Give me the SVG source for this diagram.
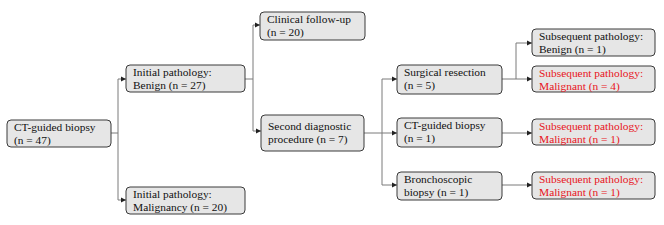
<svg xmlns="http://www.w3.org/2000/svg" width="664" height="225" viewBox="0 0 664 225">
<defs>
<marker id="ah" markerWidth="6" markerHeight="6" refX="5" refY="3" orient="auto" markerUnits="userSpaceOnUse">
<path d="M0,0.5 L5,3 L0,5.5 Z" fill="#222"/>
</marker>
<style>
.box{fill:#e6e6e6;stroke:#3a3a3a;stroke-width:1}
.t{font-family:"Liberation Serif","Times New Roman",serif;font-size:11.4px;fill:#111}
.r{fill:#e8141c}
.c{fill:none;stroke:#7a7a7a;stroke-width:1}
.a{marker-end:url(#ah)}
</style>
</defs>
<rect width="664" height="225" fill="#fff"/>
<g id="connectors">
<path class="c" d="M111,133 H118 M118,79 V200"/>
<path class="c a" d="M118,79 H126"/>
<path class="c a" d="M118,200 H126"/>
<path class="c" d="M245,79 H253 M253,25 V131"/>
<path class="c a" d="M253,25 H260"/>
<path class="c a" d="M253,131 H261"/>
<path class="c" d="M364,133 H382 M382,79 V185"/>
<path class="c a" d="M382,79 H397"/>
<path class="c a" d="M382,133 H397"/>
<path class="c a" d="M382,185 H397"/>
<path class="c" d="M502,79 H516 M516,43 V79"/>
<path class="c a" d="M516,43 H532"/>
<path class="c a" d="M516,79 H532"/>
<path class="c a" d="M502,133 H532"/>
<path class="c a" d="M502,185 H532"/>
</g>
<g id="n1"><rect class="box" x="7" y="120" width="104" height="27" rx="4"/>
<text class="t" x="14" y="131">CT-guided biopsy</text><text class="t" x="14" y="144">(n = 47)</text></g>
<g id="n2"><rect class="box" x="126" y="65" width="119" height="27" rx="4"/>
<text class="t" x="133" y="76">Initial pathology:</text><text class="t" x="133" y="89">Benign (n = 27)</text></g>
<g id="n3"><rect class="box" x="126" y="187" width="119" height="27" rx="4"/>
<text class="t" x="133" y="198">Initial pathology:</text><text class="t" x="133" y="211">Malignancy (n = 20)</text></g>
<g id="n4"><rect class="box" x="260" y="12" width="105" height="28" rx="4"/>
<text class="t" x="267" y="23">Clinical follow-up</text><text class="t" x="267" y="36">(n = 20)</text></g>
<g id="n5"><rect class="box" x="261" y="115" width="103" height="36" rx="4"/>
<text class="t" x="268" y="130">Second diagnostic</text><text class="t" x="268" y="143">procedure (n = 7)</text></g>
<g id="n6"><rect class="box" x="397" y="65" width="105" height="29" rx="4"/>
<text class="t" x="404" y="76">Surgical resection</text><text class="t" x="404" y="89">(n = 5)</text></g>
<g id="n7"><rect class="box" x="397" y="118" width="105" height="29" rx="4"/>
<text class="t" x="404" y="129">CT-guided biopsy</text><text class="t" x="404" y="142">(n = 1)</text></g>
<g id="n8"><rect class="box" x="397" y="172" width="105" height="28" rx="4"/>
<text class="t" x="404" y="183">Bronchoscopic</text><text class="t" x="404" y="196">biopsy (n = 1)</text></g>
<g id="n9"><rect class="box" x="532" y="29" width="123" height="27" rx="4"/>
<text class="t" x="539" y="40">Subsequent pathology:</text><text class="t" x="539" y="53">Benign (n = 1)</text></g>
<g id="n10"><rect class="box" x="532" y="66" width="123" height="26" rx="4"/>
<text class="t r" x="539" y="77">Subsequent pathology:</text><text class="t r" x="539" y="90">Malignant (n = 4)</text></g>
<g id="n11"><rect class="box" x="532" y="119" width="123" height="26" rx="4"/>
<text class="t r" x="539" y="130">Subsequent pathology:</text><text class="t r" x="539" y="143">Malignant (n = 1)</text></g>
<g id="n12"><rect class="box" x="532" y="172" width="123" height="27" rx="4"/>
<text class="t r" x="539" y="183">Subsequent pathology:</text><text class="t r" x="539" y="196">Malignant (n = 1)</text></g>
</svg>
